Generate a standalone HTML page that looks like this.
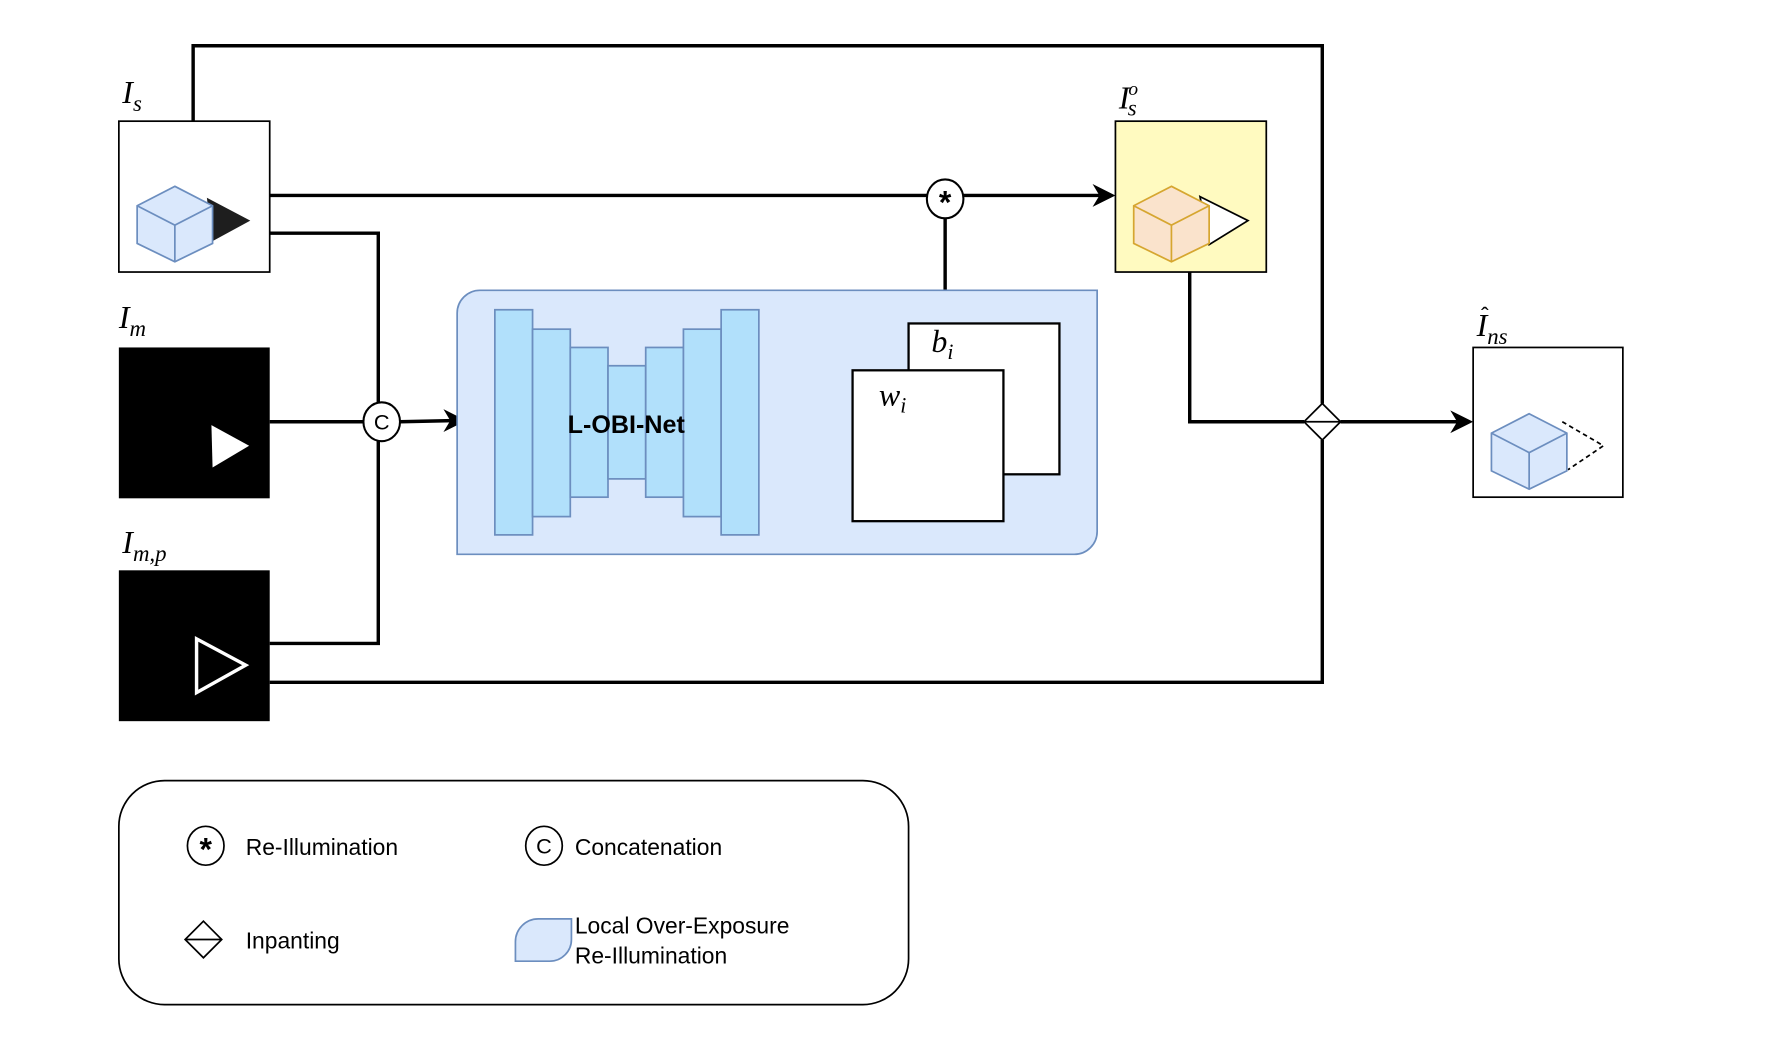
<!DOCTYPE html>
<html><head><meta charset="utf-8"><style>
html,body{margin:0;padding:0;background:#fff;}
svg{display:block;}
.m{font-family:"Liberation Serif",serif;font-style:italic;}
.s{font-family:"Liberation Sans",sans-serif;}
</style></head><body>
<svg width="1792" height="1038" viewBox="0 0 1568 908.2" xmlns="http://www.w3.org/2000/svg">
<g fill="none" stroke="#000" stroke-width="3">
<polyline points="169,106 169,40 1157,40 1157,353"/>
<polyline points="1157,385 1157,597 236,597"/>
<line x1="236" y1="171" x2="811" y2="171"/>
<line x1="843" y1="171" x2="962" y2="171"/>
<line x1="827" y1="190" x2="827" y2="268"/>
<polyline points="236,204 331,204 331,353"/>
<polyline points="331,385 331,563 236,563"/>
<line x1="236" y1="369" x2="318" y2="369"/>
<line x1="350" y1="369" x2="395" y2="368"/>
<line x1="664" y1="369" x2="715" y2="369"/>
<polyline points="1041,238 1041,369 1141,369"/>
<line x1="1173" y1="369" x2="1275" y2="369"/>
</g>
<g fill="#000">
<polygon points="408,368 388,358 394,368 388,378"/>
<polygon points="729,369 709,359 715,369 709,379"/>
<polygon points="976,171 956,161 962,171 956,181"/>
<polygon points="1289,369 1269,359 1275,369 1269,379"/>
</g>
<rect x="104" y="106" width="132" height="132" fill="#fff" stroke="#000" stroke-width="1.5"/>
<polygon points="181,173 219,193 186,211" fill="#1e1e1e"/>
<polygon points="153,163 186,180 186,213 153,229 120,213 120,180" fill="#dae8fc" stroke="#6c8ebf" stroke-width="1.5"/>
<polyline points="120,180 153,197 186,180" fill="none" stroke="#6c8ebf" stroke-width="1.5"/>
<line x1="153" y1="197" x2="153" y2="229" stroke="#6c8ebf" stroke-width="1.5"/>
<rect x="104" y="304" width="132" height="132" fill="#000"/>
<polygon points="185,372 218,390 186,409" fill="#fff"/>
<rect x="104" y="499" width="132" height="132" fill="#000"/>
<polygon points="172,559 215,582 172,606" fill="none" stroke="#fff" stroke-width="3"/>
<text class="m" x="107" y="90" font-size="28">I<tspan font-size="20" dy="7">s</tspan></text>
<text class="m" x="104" y="287" font-size="28">I<tspan font-size="20" dy="7">m</tspan></text>
<text class="m" x="107" y="484" font-size="28">I<tspan font-size="20" dy="7">m,p</tspan></text>
<text class="m" x="979" y="95" font-size="28">I<tspan font-size="17" dx="-1" dy="-12">o</tspan><tspan font-size="20" dx="-9" dy="18">s</tspan></text>
<text class="m" x="1292" y="294" font-size="28">I<tspan font-size="20" dy="7">ns</tspan></text>
<text class="s" x="1296" y="283" font-size="20">ˆ</text>
<ellipse cx="827" cy="174" rx="16" ry="17" fill="#fff" stroke="#000" stroke-width="1.8"/>
<text class="s" x="827" y="187" font-size="28" font-weight="bold" text-anchor="middle">*</text>
<ellipse cx="334" cy="369" rx="16" ry="17" fill="#fff" stroke="#000" stroke-width="1.8"/>
<text class="s" x="334" y="376" font-size="19" text-anchor="middle">C</text>
<path d="M420,254 H960 V465 A20,20 0 0 1 940,485 H400 V274 A20,20 0 0 1 420,254 Z" fill="#dae8fc" stroke="#6c8ebf" stroke-width="1.5"/>
<g fill="#b1e0fb" stroke="#6c8ebf" stroke-width="1.5">
<rect x="433" y="271" width="33" height="197"/>
<rect x="466" y="288" width="33" height="164"/>
<rect x="499" y="304" width="33" height="131"/>
<rect x="532" y="320" width="33" height="99"/>
<rect x="565" y="304" width="33" height="131"/>
<rect x="598" y="288" width="33" height="164"/>
<rect x="631" y="271" width="33" height="197"/>
</g>
<text class="s" x="548" y="379" font-size="22" font-weight="bold" text-anchor="middle">L-OBI-Net</text>
<rect x="795" y="283" width="132" height="132" fill="#fff" stroke="#000" stroke-width="2"/>
<rect x="746" y="324" width="132" height="132" fill="#fff" stroke="#000" stroke-width="2"/>
<text class="m" x="815" y="308" font-size="28">b<tspan font-size="19" dy="6">i</tspan></text>
<text class="m" x="769" y="355" font-size="28">w<tspan font-size="19" dy="6">i</tspan></text>
<rect x="976" y="106" width="132" height="132" fill="#fffac0" stroke="#000" stroke-width="1.5"/>
<polygon points="1050,172 1092,193 1058,214" fill="#fff" stroke="#000" stroke-width="1.5"/>
<polygon points="1025,163 1058,180 1058,213 1025,229 992,213 992,180" fill="#fae3cc" stroke="#d6a630" stroke-width="1.5"/>
<polyline points="992,180 1025,197 1058,180" fill="none" stroke="#d6a630" stroke-width="1.5"/>
<line x1="1025" y1="197" x2="1025" y2="229" stroke="#d6a630" stroke-width="1.5"/>
<polygon points="1157,353 1173,369 1157,385 1141,369" fill="#fff" stroke="#000" stroke-width="1.5"/>
<line x1="1141" y1="369" x2="1173" y2="369" stroke="#000" stroke-width="1.5"/>
<rect x="1289" y="304" width="131" height="131" fill="#fff" stroke="#000" stroke-width="1.5"/>
<polyline points="1367,369 1403,390 1372,411" fill="none" stroke="#000" stroke-width="1.5" stroke-dasharray="4,3"/>
<polygon points="1338,362 1371,379 1371,412 1338,428 1305,412 1305,379" fill="#dae8fc" stroke="#6c8ebf" stroke-width="1.5"/>
<polyline points="1305,379 1338,396 1371,379" fill="none" stroke="#6c8ebf" stroke-width="1.5"/>
<line x1="1338" y1="396" x2="1338" y2="428" stroke="#6c8ebf" stroke-width="1.5"/>
<rect x="104" y="683" width="691" height="196" rx="40" fill="#fff" stroke="#000" stroke-width="1.5"/>
<ellipse cx="180" cy="740" rx="16" ry="17" fill="#fff" stroke="#000" stroke-width="1.5"/>
<text class="s" x="180" y="753" font-size="28" font-weight="bold" text-anchor="middle">*</text>
<text class="s" x="215" y="748" font-size="20">Re-Illumination</text>
<ellipse cx="476" cy="740" rx="16" ry="17" fill="#fff" stroke="#000" stroke-width="1.5"/>
<text class="s" x="476" y="747" font-size="19" text-anchor="middle">C</text>
<text class="s" x="503" y="748" font-size="20">Concatenation</text>
<polygon points="178,806 194,822 178,838 162,822" fill="#fff" stroke="#000" stroke-width="1.5"/>
<line x1="162" y1="822" x2="194" y2="822" stroke="#000" stroke-width="1.5"/>
<text class="s" x="215" y="830" font-size="20">Inpanting</text>
<path d="M471,804 H500 V822 A19,19 0 0 1 481,841 H451 V824 A20,20 0 0 1 471,804 Z" fill="#dae8fc" stroke="#6c8ebf" stroke-width="1.5"/>
<text class="s" x="503" y="817" font-size="20">Local Over-Exposure</text>
<text class="s" x="503" y="843" font-size="20">Re-Illumination</text>
</svg>
</body></html>
